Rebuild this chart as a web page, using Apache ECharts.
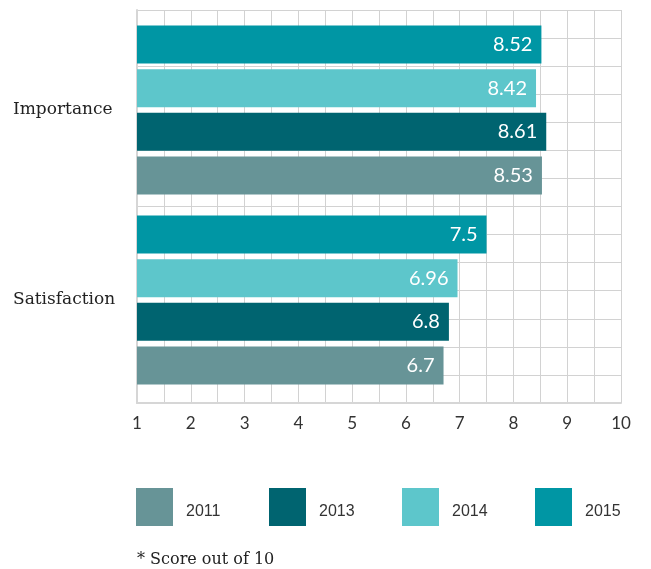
<!DOCTYPE html>
<html>
<head>
<meta charset="utf-8">
<script src="https://cdn.jsdelivr.net/npm/echarts@6/dist/echarts.min.js"></script>
<style>
  html, body { margin: 0; padding: 0; background: #ffffff; }
  #chart { width: 651px; height: 569px; }
</style>
</head>
<body>
<div id="chart"></div>
<script>
// Survey scores (out of 10) by measure and year
const categories = ['Importance', 'Satisfaction'];
const years = ['2011', '2013', '2014', '2015'];
const scores2011 = [8.53, 6.7];
const scores2013 = [8.61, 6.8];
const scores2014 = [8.42, 6.96];
const scores2015 = [8.52, 7.5];
const xTickLabels = ['1', '2', '3', '4', '5', '6', '7', '8', '9', '10'];

const colors = {
  '2011': '#679497',
  '2013': '#006470',
  '2014': '#5dc6cb',
  '2015': '#0096a4'
};

// bars listed top-to-bottom within each group
const barOrder = [
  ['2015', scores2015],
  ['2014', scores2014],
  ['2013', scores2013],
  ['2011', scores2011]
];

const gridLine = { color: '#d2d2d2', width: 1 };

const chart = echarts.init(document.getElementById('chart'), null, { renderer: 'canvas' });

const legendLefts = [136, 269, 402, 535];
const legends = years.map((y, i) => ({
  data: [y],
  left: legendLefts[i],
  top: 488,
  orient: 'horizontal',
  itemWidth: 37,
  itemHeight: 38,
  itemGap: 0,
  icon: 'rect',
  selectedMode: false,
  padding: 0,
  formatter: '{t|{name}}',
  textStyle: {
    rich: {
      t: {
        fontFamily: 'Liberation Sans, Arial, sans-serif',
        fontSize: 16,
        color: '#333333',
        padding: [10, 0, 0, 8]
      }
    }
  }
}));

chart.setOption({
  animation: false,
  backgroundColor: '#ffffff',
  legend: legends,
  grid: [
    { left: 137, right: 30, top: 10, bottom: 166 },
    { left: 137, right: 30, top: 15, bottom: 174 }
  ],
  xAxis: [
    {
      gridIndex: 0,
      type: 'value',
      min: 1,
      max: 10,
      interval: 1,
      axisLine: { show: true, lineStyle: { color: '#d6d6d6', width: 2 } },
      axisTick: { show: false },
      axisLabel: {
        margin: 12,
        fontFamily: 'Lato, sans-serif',
        fontSize: 17,
        color: '#333333',
        formatter: (v) => xTickLabels[Math.round(v) - 1] || ''
      },
      splitLine: { show: true, lineStyle: gridLine },
      minorTick: { show: false, splitNumber: 2 },
      minorSplitLine: { show: true, lineStyle: gridLine }
    },
    {
      gridIndex: 1,
      type: 'value',
      min: 1,
      max: 10,
      show: false
    }
  ],
  yAxis: [
    {
      gridIndex: 0,
      type: 'value',
      min: 0,
      max: 14,
      interval: 1,
      axisLine: { show: true, lineStyle: { color: '#d6d6d6', width: 2 } },
      axisTick: { show: false },
      axisLabel: { show: false },
      splitLine: { show: true, lineStyle: gridLine }
    },
    {
      gridIndex: 1,
      type: 'category',
      inverse: true,
      data: categories,
      axisLine: { show: false },
      axisTick: { show: false },
      axisLabel: {
        align: 'left',
        margin: 124,
        padding: [5, 0, 0, 0],
        fontFamily: 'DejaVu Serif, serif',
        fontSize: 17,
        color: '#222222'
      }
    }
  ],
  series: barOrder.map(([year, values]) => ({
    name: year,
    type: 'bar',
    xAxisIndex: 1,
    yAxisIndex: 1,
    data: values,
    barWidth: 38,
    barGap: '15%',
    itemStyle: { color: colors[year] },
    label: {
      show: true,
      position: 'insideRight',
      distance: 9,
      color: '#ffffff',
      fontFamily: 'Lato, sans-serif',
      fontSize: 20
    }
  })),
  graphic: [
    {
      type: 'text',
      left: 137,
      top: 552,
      style: {
        text: '* Score out of 10',
        fontFamily: 'DejaVu Serif, serif',
        fontSize: 16,
        fill: '#222222'
      }
    }
  ]
});
</script>
</body>
</html>
